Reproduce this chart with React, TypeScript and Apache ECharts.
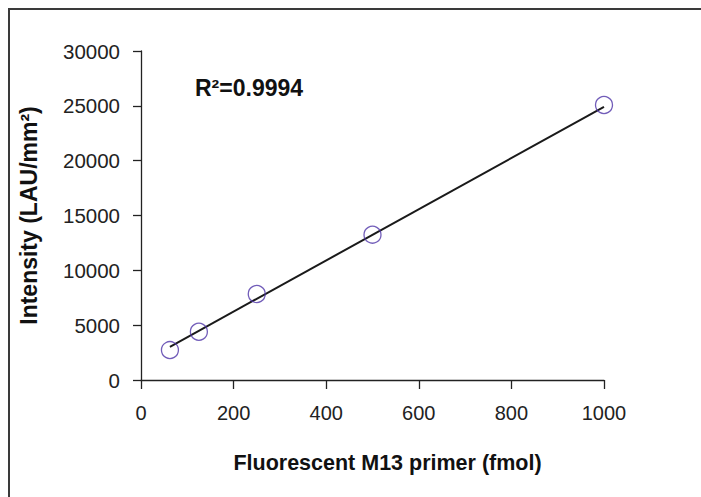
import React, { useEffect, useRef } from "react";
import * as echarts from "echarts";

const primerFmol = [62.5, 125, 250, 500, 1000];
const intensity = [2730, 4400, 7840, 13250, 25080];
const trendFmol = [62.5, 1000];
const trendIntensity = [3030, 24900];
const rSquaredLabel = "R²=0.9994";
const xAxisTitle = "Fluorescent M13 primer (fmol)";
const yAxisTitle = "Intensity (LAU/mm²)";

const FONT = "'Liberation Sans', Arial, Helvetica, sans-serif";

export default function App() {
  const ref = useRef<HTMLDivElement>(null);
  useEffect(() => {
    if (!ref.current) return;
    const chart = echarts.init(ref.current, undefined, { renderer: "svg" });
    chart.setOption({
      animation: false,
      backgroundColor: "#ffffff",
      grid: { left: 141, top: 51, width: 463, height: 329, containLabel: false },
      xAxis: {
        type: "value",
        min: 0,
        max: 1000,
        interval: 200,
        name: xAxisTitle,
        nameLocation: "middle",
        nameGap: 72,
        nameTextStyle: {
          fontFamily: FONT,
          fontSize: 21.5,
          fontWeight: "bold",
          color: "#111",
          padding: [0, 0, 0, 30],
        },
        axisLine: { show: true, onZero: false, lineStyle: { color: "#222", width: 1.3 } },
        axisTick: { show: true, inside: false, length: 9, lineStyle: { color: "#222", width: 1.3 } },
        axisLabel: {
          fontFamily: FONT,
          fontSize: 20,
          color: "#222",
          margin: 23,
          formatter: (v: number) => String(v),
        },
        splitLine: { show: false },
      },
      yAxis: {
        type: "value",
        min: 0,
        max: 30000,
        interval: 5000,
        name: yAxisTitle,
        nameLocation: "middle",
        nameGap: 101,
        nameRotate: 90,
        nameTextStyle: { fontFamily: FONT, fontSize: 23, fontWeight: "bold", color: "#111" },
        axisLine: { show: true, onZero: false, lineStyle: { color: "#222", width: 1.3 } },
        axisTick: { show: true, inside: false, length: 8, lineStyle: { color: "#222", width: 1.3 } },
        axisLabel: {
          fontFamily: FONT,
          fontSize: 20.5,
          color: "#222",
          margin: 21,
          formatter: (v: number) => String(v),
        },
        splitLine: { show: false },
      },
      graphic: [
        {
          type: "rect",
          shape: { x: 9, y: 9, width: 720, height: 520 },
          style: { fill: "none", stroke: "#3a3a3a", lineWidth: 2 },
          silent: true,
        },
        {
          type: "text",
          left: 195,
          top: 76,
          style: {
            text: rSquaredLabel,
            fontFamily: FONT,
            fontSize: 23,
            fontWeight: "bold",
            fill: "#111",
          },
        },
      ],
      series: [
        {
          type: "line",
          data: trendFmol.map((x, i) => [x, trendIntensity[i]]),
          symbol: "none",
          lineStyle: { color: "#1a1a1a", width: 2 },
          z: 2,
        },
        {
          type: "scatter",
          data: primerFmol.map((x, i) => [x, intensity[i]]),
          symbol: "circle",
          symbolSize: 17,
          itemStyle: { color: "rgba(0,0,0,0)", borderColor: "#4f35a8", borderWidth: 1.3 },
          z: 3,
        },
      ],
    });
    return () => chart.dispose();
  }, []);
  return (
    <div
      ref={ref}
      style={{ position: "fixed", left: 0, top: 0, width: 701, height: 497, background: "#fff" }}
    />
  );
}
